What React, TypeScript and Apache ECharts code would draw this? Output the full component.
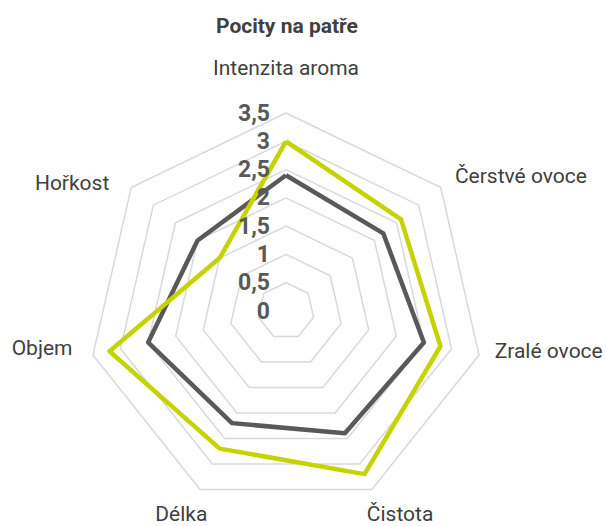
import { useEffect, useRef } from 'react';
import * as echarts from 'echarts';

const chartTitle = 'Pocity na patře';
// ECharts lays indicators out counter-clockwise from the top
const indicatorNames = ['Intenzita aroma', 'Hořkost', 'Objem', 'Délka', 'Čistota', 'Zralé ovoce', 'Čerstvé ovoce'];
const seriesNames = ['Řada 1', 'Řada 2'];
const grayValues = [2.4, 2.0, 2.5, 2.2, 2.4, 2.5, 2.2];
const yellowValues = [3.0, 1.5, 3.2, 2.7, 3.2, 2.8, 2.6];
const tickValues = [0, 0.5, 1, 1.5, 2, 2.5, 3, 3.5];
const tickLabels = ['0', '0,5', '1', '1,5', '2', '2,5', '3', '3,5'];
const axisMax = 3.5;

const nameLayouts: Record<string, any> = {
  'Intenzita aroma': { gap: 45, style: { align: 'center', verticalAlign: 'middle' } },
  'Hořkost': { gap: 28, style: { align: 'right', verticalAlign: 'top', lineHeight: 25 } },
  'Objem': { gap: 21, style: { align: 'right', verticalAlign: 'bottom', lineHeight: 24 } },
  'Délka': { gap: 27, style: { align: 'center', verticalAlign: 'middle', padding: [0, 14, 0, 0] } },
  'Čistota': { gap: 27, style: { align: 'center', verticalAlign: 'middle', padding: [0, 0, 0, 33] } },
  'Zralé ovoce': { gap: 16, style: { align: 'left', verticalAlign: 'bottom', lineHeight: 15 } },
  'Čerstvé ovoce': { gap: 18, style: { align: 'left', verticalAlign: 'middle' } },
};

const FONT = 'Roboto';
const CENTER = [286, 311];
const RADIUS = 198;

export default function App() {
  const ref = useRef<HTMLDivElement>(null);
  useEffect(() => {
    if (!ref.current) return;
    const chart = echarts.init(ref.current, null, { renderer: 'svg' });
    const option: any = {
      animation: false,
      backgroundColor: '#ffffff',
      title: {
        text: chartTitle,
        left: 211,
        top: 10,
        textStyle: { fontFamily: FONT, fontSize: 21, fontWeight: 'bold', color: '#404040' },
      },
      radar: [
        {
          center: CENTER,
          radius: RADIUS,
          startAngle: 90,
          shape: 'polygon',
          splitNumber: 7,
          indicator: indicatorNames.map((n) => ({
            name: n,
            min: 0,
            max: axisMax,
            nameGap: nameLayouts[n].gap,
            nameTextStyle: nameLayouts[n].style,
          })),
          axisName: { show: true, fontFamily: FONT, fontSize: 21, color: '#404040' },
          axisLine: { show: false },
          axisTick: { show: false },
          axisLabel: { show: false },
          splitArea: { show: false },
          splitLine: { show: true, lineStyle: { color: '#d9d9d9', width: 1.5 } },
        },
        {
          center: CENTER,
          radius: RADIUS,
          startAngle: 90,
          shape: 'polygon',
          splitNumber: 7,
          z: 5,
          indicator: indicatorNames.map((n, i) => ({
            name: n,
            min: 0,
            max: axisMax,
            axisLabel: { show: i === 0 },
          })),
          axisName: { show: false },
          axisLine: { show: false },
          axisTick: { show: false },
          axisLabel: {
            show: false,
            margin: 16,
            fontFamily: FONT,
            fontSize: 23,
            fontWeight: 'bold',
            color: '#595959',
            formatter: (v: number) => {
              const k = tickValues.indexOf(v);
              return k >= 0 ? tickLabels[k] : String(v);
            },
          },
          splitArea: { show: false },
          splitLine: { show: false },
        },
      ],
      series: [
        {
          type: 'radar',
          radarIndex: 0,
          symbol: 'none',
          data: [
            { name: seriesNames[0], value: grayValues, lineStyle: { color: '#595959', width: 4.5 } },
          ],
        },
        {
          type: 'radar',
          radarIndex: 0,
          symbol: 'none',
          data: [
            { name: seriesNames[1], value: yellowValues, lineStyle: { color: '#c5d300', width: 4.5 } },
          ],
        },
      ],
    };
    chart.setOption(option);
    return () => chart.dispose();
  }, []);
  return (
    <div
      ref={ref}
      style={{ position: 'absolute', left: 0, top: 0, width: 606, height: 526 }}
    />
  );
}
